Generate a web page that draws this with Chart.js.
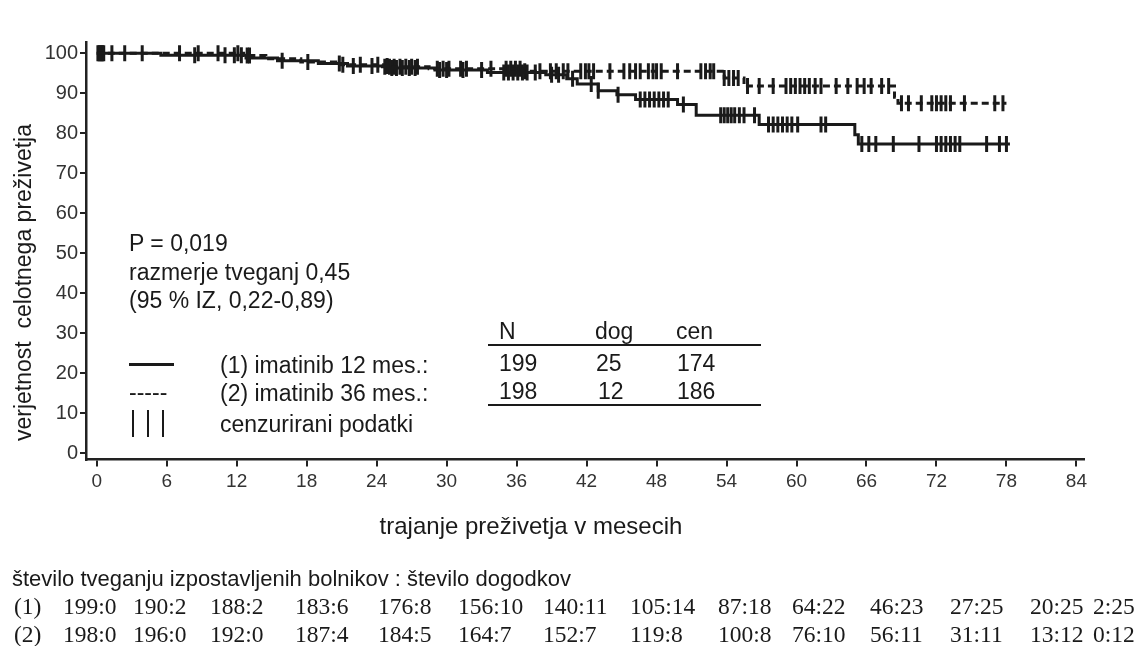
<!DOCTYPE html>
<html><head><meta charset="utf-8">
<script src="https://cdn.jsdelivr.net/npm/chart.js@4.4.1/dist/chart.umd.min.js"></script>
<style>
html,body{margin:0;padding:0;background:#fff;}
#wrap{position:relative;width:1135px;height:646px;overflow:hidden;font-family:'Liberation Sans',Arial,sans-serif;color:#1a1a1a;}
#c{position:absolute;left:0;top:0;}
.t{position:absolute;white-space:pre;font-size:23px;line-height:23px;}
.serif{font-family:'Liberation Serif','Times New Roman',serif;font-size:23.5px;line-height:23px;}
.ln{position:absolute;background:#1a1a1a;}
</style></head><body>
<div id="wrap"><canvas id="c" width="1135" height="646"></canvas></div>
<script>
// ---------- data ----------
const xTicks = [0, 6, 12, 18, 24, 30, 36, 42, 48, 54, 60, 66, 72, 78, 84];
const yTicks = [0, 10, 20, 30, 40, 50, 60, 70, 80, 90, 100];

// Group 1: imatinib 12 mes. (Kaplan-Meier steps)
const g1Times = [0, 5.5, 12.8, 15.5, 19.0, 21.5, 25.0, 29.0, 33.5, 38.5, 40.3, 41.2, 43.0, 44.6, 46.2, 49.8, 51.4, 56.8, 65.0, 65.3];
const g1Surv  = [100, 99.5, 98.8, 98.1, 97.4, 96.8, 96.3, 95.8, 95.2, 94.6, 93.6, 92.3, 90.6, 89.6, 88.4, 87.2, 84.5, 82.2, 79.6, 77.3];
const g1End = 78.3;
const g1Censor = [0.1, 0.3, 0.5, 1.3, 2.4, 3.9, 8.4, 11.0, 11.8, 12.4, 15.9, 20.8, 22.0, 23.6,
  24.9, 25.3, 25.7, 26.2, 26.8, 27.3, 29.4, 30.0, 31.4, 33.0, 34.9, 35.3, 35.7, 36.1, 36.5, 36.9,
  37.6, 39.0, 39.6, 40.8, 42.4, 43.0, 44.7, 46.6, 47.0, 47.4, 47.8, 48.2, 48.6, 49.0, 50.3,
  53.5, 53.8, 54.1, 54.4, 54.7, 55.1, 55.5, 56.4, 57.6, 58.0, 58.4, 58.8, 59.2, 59.6, 60.1,
  62.1, 62.5, 65.6, 66.2, 66.8, 68.3, 70.5, 72.0, 72.4, 72.8, 73.2, 73.6, 74.0, 76.3, 77.4, 78.0];

// Group 2: imatinib 36 mes.
const g2Times = [0, 12.6, 14.5, 17.5, 20.5, 24.5, 28.5, 36.5, 53.8, 55.5, 68.4, 68.7];
const g2Surv  = [100, 99.4, 98.6, 97.8, 97.1, 96.6, 96.1, 95.5, 93.8, 91.8, 89.0, 87.5];
const g2End = 78.0;
const g2Censor = [0.2, 0.4, 0.6, 7.1, 8.7, 10.4, 12.1, 12.9, 13.1, 18.1, 21.1, 22.6, 24.1,
  24.7, 25.1, 25.5, 26.0, 26.5, 27.0, 27.5, 29.2, 29.7, 30.2, 31.2, 31.7, 33.8,
  35.1, 35.5, 35.9, 36.3, 36.7, 38.0, 38.9, 39.4, 40.0, 40.4, 41.5, 41.9, 42.2, 42.6,
  44.0, 45.2, 45.7, 46.2, 46.6, 47.3, 47.7, 48.0, 48.4, 49.8, 51.8, 52.2, 52.6, 52.9,
  53.8, 54.2, 54.6, 55.0, 55.8, 56.8, 58.0, 59.1, 59.5, 59.9, 60.3, 60.7, 61.1, 61.6, 62.1,
  63.4, 64.4, 65.2, 65.8, 66.4, 67.3, 67.9, 69.0, 69.6, 70.7, 71.6, 72.0, 72.4, 72.8, 73.2,
  74.4, 77.0, 77.7];

// risk table
const riskTimes = [0, 6, 12, 18, 24, 30, 36, 42, 48, 54, 60, 66, 72, 78];
const risk1 = ['199:0','190:2','188:2','183:6','176:8','156:10','140:11','105:14','87:18','64:22','46:23','27:25','20:25','2:25'];
const risk2 = ['198:0','196:0','192:0','187:4','184:5','164:7','152:7','119:8','100:8','76:10','56:11','31:11','13:12','0:12'];
const riskTitle = 'število tveganju izpostavljenih bolnikov : število dogodkov';
const riskRowLabels = ['(1)', '(2)'];

// annotations
const statsLines = ['P = 0,019', 'razmerje tveganj 0,45', '(95 % IZ, 0,22-0,89)'];
const groupLabels = ['(1) imatinib 12 mes.:', '(2) imatinib 36 mes.:'];
const censorLabel = 'cenzurirani podatki';
const tableHeader = ['N', 'dog', 'cen'];
const tableN   = [199, 198];
const tableDog = [25, 12];
const tableCen = [174, 186];
const yTitle = 'verjetnost  celotnega preživetja';
const xTitle = 'trajanje preživetja v mesecih';

// ---------- layout constants ----------
const riskColLeft = [63, 133, 210, 295, 378, 458, 543, 630, 718, 792, 870, 950, 1030, 1093];
const tableColLeft = [499, 595, 676];

// ---------- helpers ----------
function survAt(times, surv, t) {
  let s = surv[0];
  for (let i = 0; i < times.length; i++) { if (times[i] <= t) s = surv[i]; }
  return s;
}
function curve(times, surv, end) {
  const pts = times.map((t, i) => ({x: t, y: surv[i]}));
  pts.push({x: end, y: surv[surv.length - 1]});
  return pts;
}
function censorPts(times, surv, cens) {
  return cens.map(c => ({x: c, y: survAt(times, surv, c)}));
}

const wrap = document.getElementById('wrap');
function addText(txt, left, cy, cls, extra) {
  const d = document.createElement('div');
  d.className = 't' + (cls ? ' ' + cls : '');
  d.textContent = txt;
  d.style.left = left + 'px';
  d.style.top = (cy - 11.5) + 'px';
  if (extra) Object.assign(d.style, extra);
  wrap.appendChild(d);
  return d;
}
function addLine(x, y, w, h) {
  const d = document.createElement('div');
  d.className = 'ln';
  Object.assign(d.style, {left: x + 'px', top: y + 'px', width: w + 'px', height: h + 'px'});
  wrap.appendChild(d);
}

// ---------- chart ----------
const black = '#1a1a1a';
new Chart(document.getElementById('c'), {
  type: 'scatter',
  data: {
    datasets: [
      {data: curve(g1Times, g1Surv, g1End), showLine: true, stepped: 'before', borderColor: black, borderWidth: 3, pointRadius: 0},
      {data: curve(g2Times, g2Surv, g2End), showLine: true, stepped: 'before', borderColor: black, borderWidth: 3, borderDash: [7, 4], pointRadius: 0},
      {data: censorPts(g1Times, g1Surv, g1Censor), showLine: false, pointStyle: 'line', rotation: 90, pointRadius: 8, pointBorderWidth: 3, pointBorderColor: black, pointBackgroundColor: black},
      {data: censorPts(g2Times, g2Surv, g2Censor), showLine: false, pointStyle: 'line', rotation: 90, pointRadius: 8, pointBorderWidth: 3, pointBorderColor: black, pointBackgroundColor: black}
    ]
  },
  options: {
    responsive: false, animation: false, devicePixelRatio: 1,
    layout: {padding: {left: 0, top: 42, right: 51, bottom: 146.5}},
    plugins: {legend: {display: false}, tooltip: {enabled: false}},
    scales: {
      x: {
        type: 'linear', min: -0.92, max: 84.65,
        afterBuildTicks: s => { s.ticks = xTicks.map(v => ({value: v})); },
        afterFit: s => { s.height = 40; },
        border: {display: true, color: '#222', width: 2.5},
        grid: {display: true, drawOnChartArea: false, drawTicks: true, tickLength: 7, color: '#222', lineWidth: 2},
        ticks: {padding: 4, color: '#333', font: {family: "'Liberation Sans Narrow','Arial Narrow','Liberation Sans'", size: 19}, maxRotation: 0}
      },
      y: {
        type: 'linear', min: -1.57, max: 102.8,
        afterBuildTicks: s => { s.ticks = yTicks.map(v => ({value: v})); },
        afterFit: s => { s.width = 86; },
        border: {display: true, color: '#222', width: 2.5},
        grid: {display: true, drawOnChartArea: false, drawTicks: true, tickLength: 6, color: '#222', lineWidth: 2},
        ticks: {padding: 2, color: '#333', font: {family: "'Liberation Sans'", size: 20}}
      }
    }
  }
});

// ---------- text overlays ----------
// axis titles
addText(xTitle, 0, 525, '', {width: '1062px', textAlign: 'center', left: '0px', fontSize: '24px'});
const yt = addText(yTitle, 0, 0, '', {width: '400px', textAlign: 'center'});
yt.style.left = (23 - 200) + 'px';
yt.style.top = (282 - 11.5) + 'px';
yt.style.transform = 'rotate(-90deg)';

// statistics block
[243, 272, 300].forEach((cy, i) => addText(statsLines[i], 129, cy));

// legend
addLine(129, 363, 45, 3);
addText('-----', 129, 392);
[132, 147, 162].forEach(x => addLine(x, 410, 2, 27));
addText(groupLabels[0], 220, 365);
addText(groupLabels[1], 220, 393);
addText(censorLabel, 220, 424);

// small table
tableHeader.forEach((h, i) => addText(h, tableColLeft[i], 331));
addLine(488, 344, 273, 2);
addText(String(tableN[0]), tableColLeft[0], 363);
addText(String(tableDog[0]), tableColLeft[1] + 1, 363);
addText(String(tableCen[0]), tableColLeft[2] + 1, 363);
addText(String(tableN[1]), tableColLeft[0], 391);
addText(String(tableDog[1]), tableColLeft[1] + 3, 391);
addText(String(tableCen[1]), tableColLeft[2] + 1, 391);
addLine(488, 404, 273, 2);

// risk table
addText(riskTitle, 12, 578, '', {fontSize: '22px'});
addText(riskRowLabels[0], 14, 606, 'serif');
addText(riskRowLabels[1], 14, 634, 'serif');
riskTimes.forEach((t, i) => {
  addText(risk1[i], riskColLeft[i], 606, 'serif');
  addText(risk2[i], riskColLeft[i], 634, 'serif');
});
</script>
</body></html>
